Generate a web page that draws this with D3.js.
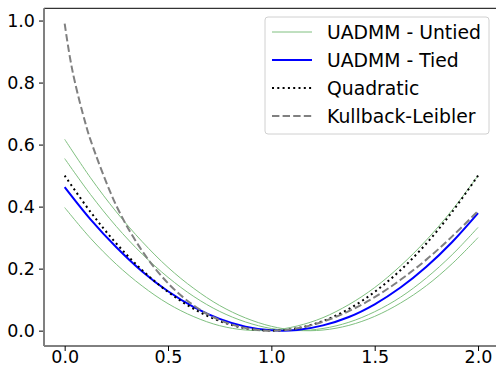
<!DOCTYPE html>
<html><head><meta charset="utf-8">
<script src="https://cdn.jsdelivr.net/npm/d3@7"></script>
<style>body{margin:0;background:#fff}svg{display:block}text{font-family:"DejaVu Sans",sans-serif}</style>
</head><body><svg id="c" width="496" height="367"></svg>
<script>
const xs = [0,0.125,0.25,0.375,0.5,0.625,0.75,0.875,1.0,1.125,1.25,1.375,1.5,1.625,1.75,1.875,2.0];
const untiedA = [0.397,0.298,0.214,0.144,0.087,0.045,0.016,0.002,0.0015,0.015,0.042,0.084,0.139,0.209,0.292,0.389,0.500];
const untiedB = [0.617,0.493,0.383,0.287,0.204,0.136,0.081,0.041,0.014,0.001,0.002,0.017,0.046,0.089,0.145,0.216,0.300];
const untiedC = [0.555,0.439,0.336,0.247,0.172,0.110,0.062,0.028,0.007,0.000,0.007,0.027,0.061,0.108,0.170,0.245,0.333];
const tied = [0.463,0.359,0.269,0.191,0.127,0.076,0.038,0.013,0.001,0.002,0.017,0.044,0.085,0.139,0.206,0.286,0.379];
const quadratic = [0.5,0.383,0.281,0.195,0.125,0.070,0.031,0.0078,0,0.0078,0.031,0.070,0.125,0.195,0.281,0.383,0.5];
const xsKL = [0,0.025,0.05,0.1,0.125,0.25,0.375,0.5,0.625,0.75,0.875,1.0,1.125,1.25,1.375,1.5,1.625,1.75,1.875,2.0];
const kl = [0.99,0.883,0.800,0.670,0.615,0.403,0.257,0.153,0.081,0.034,0.0082,0,0.0075,0.029,0.063,0.108,0.164,0.229,0.304,0.386];
const xTicks = [0,0.5,1.0,1.5,2.0];
const yTicks = [0,0.2,0.4,0.6,0.8,1.0];
const legendLabels = ["UADMM - Untied","UADMM - Tied","Quadratic","Kullback-Leibler"];

const svg = d3.select("#c");
const x = d3.scaleLinear().domain([-0.1,2.1]).range([44,498.7]);
const y = d3.scaleLinear().domain([-0.0495,1.0395]).range([346,8.3]);

const line = (xa) => d3.line().x((d,i)=>x(xa[i])).y(d=>y(d)).curve(d3.curveCatmullRom.alpha(0.5));

const g = svg.append("g");
[untiedA,untiedB,untiedC].forEach(s=>{
  g.append("path").datum(s).attr("d",line(xs)).attr("fill","none")
   .attr("stroke","rgb(128,192,128)").attr("stroke-width",1);
});
g.append("path").datum(tied).attr("d",line(xs)).attr("fill","none").attr("stroke","#0000ff").attr("stroke-width",2);
g.append("path").datum(quadratic).attr("d",line(xs)).attr("fill","none").attr("stroke","#000").attr("stroke-width",2).attr("stroke-dasharray","2,3.3");
g.append("path").datum(kl).attr("d",line(xsKL)).attr("fill","none").attr("stroke","#808080").attr("stroke-width",2).attr("stroke-dasharray","7.4,3.2");

// axes
const xa = svg.append("g").attr("transform","translate(0,346)")
  .call(d3.axisBottom(x).tickValues(xTicks).tickFormat(d3.format(".1f")).tickSize(5).tickPadding(0));
xa.select(".domain").remove();
xa.selectAll("text").attr("font-size","17.5px").attr("fill","#000");
const ya = svg.append("g").attr("transform","translate(44,0)")
  .call(d3.axisLeft(y).tickValues(yTicks).tickFormat(d3.format(".1f")).tickSize(5).tickPadding(4));
ya.select(".domain").remove();
ya.selectAll("text").attr("font-size","17.5px").attr("fill","#000");
svg.selectAll(".tick line").attr("stroke","#000");
// spines
svg.append("line").attr("x1",44).attr("x2",496).attr("y1",8.3).attr("y2",8.3).attr("stroke","#000");
svg.append("line").attr("x1",44).attr("x2",496).attr("y1",346).attr("y2",346).attr("stroke","#000");
svg.append("line").attr("x1",44).attr("x2",44).attr("y1",8.3).attr("y2",346).attr("stroke","#808080").attr("stroke-width",2);

// legend
const lg = svg.append("g");
lg.append("rect").attr("x",265).attr("y",17).attr("width",224).attr("height",117).attr("rx",3)
  .attr("fill","#fff").attr("fill-opacity",0.8).attr("stroke","#d0d0d0");
const styles = [
  {c:"rgb(128,192,128)",w:1,d:null},
  {c:"#0000ff",w:2,d:null},
  {c:"#000",w:2,d:"2,3.3"},
  {c:"#808080",w:2,d:"7.4,3.2"}];
legendLabels.forEach((t,i)=>{
  const cy = 32 + i*28;
  lg.append("line").attr("x1",272).attr("x2",312).attr("y1",cy).attr("y2",cy)
    .attr("stroke",styles[i].c).attr("stroke-width",styles[i].w).attr("stroke-dasharray",styles[i].d);
  lg.append("text").attr("x",327).attr("y",cy).attr("dy","0.35em").attr("font-size","18.8px").text(t);
});
</script></body></html>
